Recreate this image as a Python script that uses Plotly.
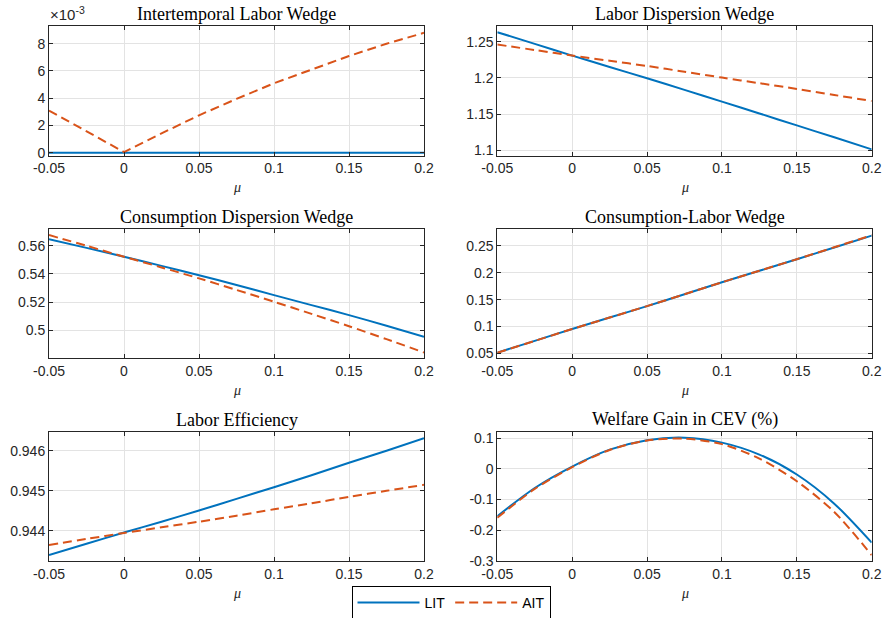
import plotly.graph_objects as go

W, H = 883, 618

mu = [-0.05, -0.025, 0.0, 0.025, 0.05, 0.075, 0.1, 0.125, 0.15, 0.175, 0.2]

# Intertemporal Labor Wedge
ilw_lit = [0.0] * 11
ilw_ait = [0.0031, 0.00155, 0.00005, 0.00142, 0.00275, 0.00395, 0.0051, 0.0061, 0.0071, 0.0080, 0.0088]

# Labor Dispersion Wedge
ldw_lit = [1.2634, 1.2472, 1.2310, 1.2152, 1.1995, 1.1835, 1.1672, 1.1508, 1.1342, 1.1177, 1.1010]
ldw_ait = [1.2463, 1.2387, 1.2310, 1.2238, 1.2166, 1.2086, 1.2005, 1.1927, 1.1848, 1.1764, 1.1680]

# Consumption Dispersion Wedge
cdw_lit = [0.5647, 0.5585, 0.5522, 0.5457, 0.5391, 0.5321, 0.5249, 0.5178, 0.5107, 0.5031, 0.4953]
cdw_ait = [0.5676, 0.5600, 0.5522, 0.5446, 0.5368, 0.5286, 0.5202, 0.5116, 0.5028, 0.4936, 0.4841]

# Consumption-Labor Wedge
clw_lit = [0.0512, 0.0732, 0.0953, 0.1166, 0.1380, 0.1601, 0.1823, 0.2037, 0.2252, 0.2472, 0.2693]
clw_ait = [0.0510, 0.0731, 0.0953, 0.1166, 0.1380, 0.1601, 0.1823, 0.2038, 0.2254, 0.2476, 0.2700]

# Labor Efficiency
le_lit = [0.94340, 0.94368, 0.94396, 0.94423, 0.94451, 0.94480, 0.94509, 0.94539, 0.94570, 0.94600, 0.94631]
le_ait = [0.94365, 0.94380, 0.94395, 0.94409, 0.94423, 0.94438, 0.94454, 0.94469, 0.94485, 0.94500, 0.94515]

# Welfare Gain in CEV (%)
wg_lit = [-0.155, -0.063, 0.007, 0.062, 0.093, 0.101, 0.085, 0.046, -0.019, -0.114, -0.241]
wg_ait = [-0.160, -0.066, 0.005, 0.061, 0.092, 0.098, 0.080, 0.033, -0.041, -0.141, -0.282]

titles = ["Intertemporal Labor Wedge", "Labor Dispersion Wedge",
          "Consumption Dispersion Wedge", "Consumption-Labor Wedge",
          "Labor Efficiency", "Welfare Gain in CEV (%)"]
series_names = ["LIT", "AIT"]

x_ticks = [-0.05, 0, 0.05, 0.1, 0.15, 0.2]
x_ticktext = ["-0.05", "0", "0.05", "0.1", "0.15", "0.2"]

y_ticks = [
    [0, 0.002, 0.004, 0.006, 0.008],
    [1.1, 1.15, 1.2, 1.25],
    [0.5, 0.52, 0.54, 0.56],
    [0.05, 0.1, 0.15, 0.2, 0.25],
    [0.944, 0.945, 0.946],
    [-0.3, -0.2, -0.1, 0, 0.1],
]
y_ticktext = [
    ["0", "2", "4", "6", "8"],
    ["1.1", "1.15", "1.2", "1.25"],
    ["0.5", "0.52", "0.54", "0.56"],
    ["0.05", "0.1", "0.15", "0.2", "0.25"],
    ["0.944", "0.945", "0.946"],
    ["-0.3", "-0.2", "-0.1", "0", "0.1"],
]
y_ranges = [
    [-0.0002, 0.0093],
    [1.0925, 1.272],
    [0.480, 0.5717],
    [0.0407, 0.2811],
    [0.94325, 0.94646],
    [-0.301, 0.1186],
]

data = [(ilw_lit, ilw_ait), (ldw_lit, ldw_ait), (cdw_lit, cdw_ait),
        (clw_lit, clw_ait), (le_lit, le_ait), (wg_lit, wg_ait)]

# layout in pixels
col_px = [(49, 424), (497.3, 871.7)]
row_px = [(26, 155.5), (229.3, 358.3), (432.3, 561)]

BLUE = "#0072BD"
ORANGE = "#D95319"
AX = "#262626"
GRID = "#e3e3e3"

fig = go.Figure()
annotations = []
for i in range(6):
    r, c = divmod(i, 2)
    xd = [col_px[c][0] / W, col_px[c][1] / W]
    yd = [1 - row_px[r][1] / H, 1 - row_px[r][0] / H]
    n = i + 1
    xa = "x" if n == 1 else f"x{n}"
    ya = "y" if n == 1 else f"y{n}"
    lit, ait = data[i]
    shp = "linear" if i == 0 else "spline"
    fig.add_trace(go.Scatter(x=mu, y=lit, mode="lines", name=series_names[0],
                             line=dict(color=BLUE, width=2, shape=shp, smoothing=0.8),
                             xaxis=xa, yaxis=ya, showlegend=(i == 0)))
    fig.add_trace(go.Scatter(x=mu, y=ait, mode="lines", name=series_names[1],
                             line=dict(color=ORANGE, width=2, dash="9px,5px", shape=shp, smoothing=0.8),
                             xaxis=xa, yaxis=ya, showlegend=(i == 0)))
    axcommon = dict(showline=True, linecolor=AX, linewidth=1, mirror="ticks",
                    ticks="inside", ticklen=4, tickcolor=AX, tickwidth=1, automargin=False,
                    showgrid=True, gridcolor=GRID, gridwidth=1, zeroline=False,
                    tickfont=dict(family="Liberation Sans, Arial, sans-serif", size=14, color=AX))
    fig.update_layout({
        ("xaxis" if n == 1 else f"xaxis{n}"): dict(domain=xd, range=[-0.05, 0.2], anchor=ya,
                                                  tickvals=x_ticks, ticktext=x_ticktext, **axcommon),
        ("yaxis" if n == 1 else f"yaxis{n}"): dict(domain=yd, range=y_ranges[i], anchor=xa,
                                                  tickvals=y_ticks[i], ticktext=y_ticktext[i], **axcommon),
    })
    annotations.append(dict(text=titles[i], x=(xd[0] + xd[1]) / 2, y=yd[1], xref="paper", yref="paper",
                            xanchor="center", yanchor="bottom", yshift=0, showarrow=False,
                            font=dict(family="Liberation Serif, Times New Roman, serif", size=18, color="#000000")))
    annotations.append(dict(text="<i>μ</i>", x=(xd[0] + xd[1]) / 2, y=yd[0], xref="paper", yref="paper",
                            xanchor="center", yanchor="middle", yshift=-32, showarrow=False,
                            font=dict(family="Liberation Serif, Times New Roman, serif", size=14, color=AX)))

annotations.append(dict(text="×10<sup>-3</sup>", x=48 / W, y=1 - 26 / H, xref="paper", yref="paper",
                        xanchor="left", yanchor="bottom", yshift=1, showarrow=False,
                        font=dict(family="Liberation Sans, Arial, sans-serif", size=15, color=AX)))

fig.update_layout(
    width=W, height=H, margin=dict(l=0, r=0, t=0, b=0, autoexpand=False),
    paper_bgcolor="white", plot_bgcolor="white",
    annotations=annotations,
    legend=dict(orientation="h", x=451 / W, y=1 - 603 / H, xanchor="center", yanchor="middle",
                bordercolor="#000000", borderwidth=1, bgcolor="white", itemwidth=62,
                font=dict(family="Liberation Sans, Arial, sans-serif", size=14, color="#000000")),
    showlegend=True,
)

fig.write_html("out.html")
